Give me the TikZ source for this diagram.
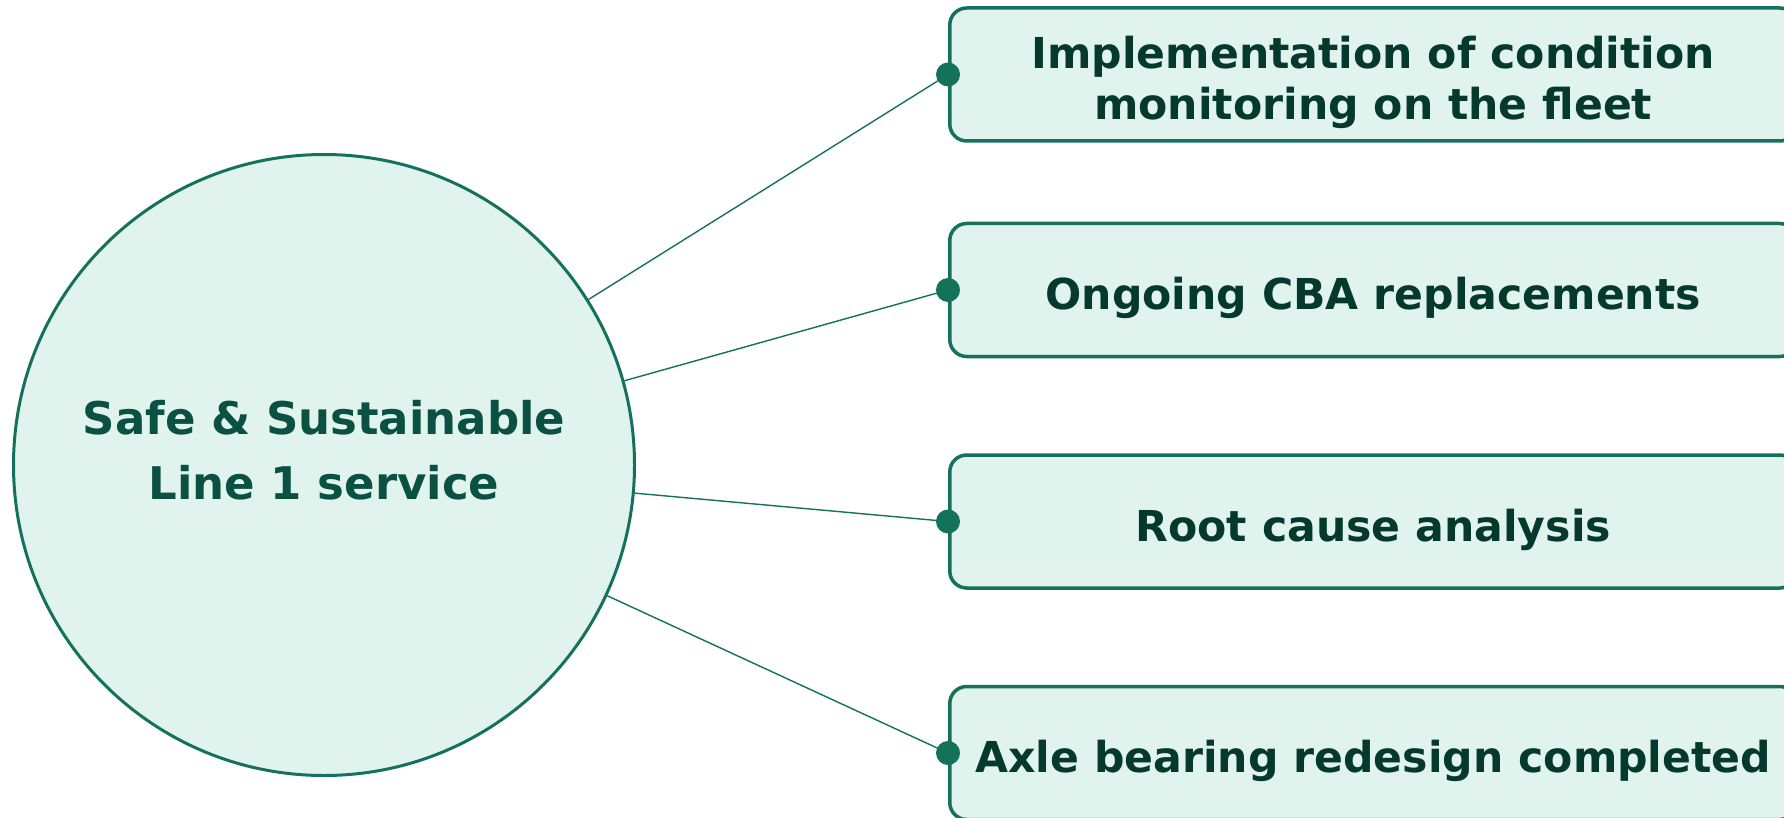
\documentclass[tikz,border=0pt]{standalone}
\usepackage{fontspec}
\setmainfont{DejaVu Sans}
\definecolor{edge}{HTML}{14725A}
\definecolor{mint}{HTML}{E0F3EC}
\definecolor{boxink}{HTML}{06392E}
\definecolor{hubink}{HTML}{0B5143}
\tikzset{
  hubshape/.style={circle, draw=edge, fill=mint, line width=3pt, minimum size=621pt, inner sep=0pt},
  hubtext/.style={text=hubink, font=\fontsize{45}{65}\selectfont\bfseries, align=center},
  itembox/.style={rectangle, rounded corners=17pt, draw=edge, fill=mint, line width=3.5pt,
    minimum width=847pt, minimum height=133pt, anchor=west, inner sep=0pt},
  itemtext/.style={text=boxink, font=\fontsize{42.6}{51}\selectfont\bfseries, align=center},
  link/.style={draw=edge, line width=1.4pt},
  pin/.style={circle, fill=edge, minimum size=24pt, inner sep=0pt}
}
\begin{document}
\begin{tikzpicture}[x=1pt, y=-1pt]
  \path[use as bounding box, clip] (0,0) rectangle (1784,818);

  % central goal
  \node[hubshape] (hub) at (324,465) {};
  \node[hubtext] (hubtxt) at (324,450) {Safe \& Sustainable\\Line 1 service};

  % workstream boxes
  \node[itembox] (b1) at (948,74.5) {};
  \node[itembox] (b2) at (948,290) {};
  \node[itembox] (b3) at (948,521.5) {};
  \node[itembox] (b4) at (948,753) {};

  \node[itemtext] (t1) at ([yshift=-8pt]b1.center) {Implementation of condition\\monitoring on the fleet};
  \node[itemtext] (t2) at ([yshift=-8pt]b2.center) {Ongoing CBA replacements};
  \node[itemtext] (t3) at ([yshift=-8pt]b3.center) {Root cause analysis};
  \node[itemtext] (t4) at ([yshift=-8pt]b4.center) {Axle bearing redesign completed};

  % connection pins on the box edges
  \foreach \i in {1,2,3,4} {
    \path[link] (hub) -- (b\i.west);
    \node[pin] (p\i) at (b\i.west) {};
  }
\end{tikzpicture}
\end{document}
